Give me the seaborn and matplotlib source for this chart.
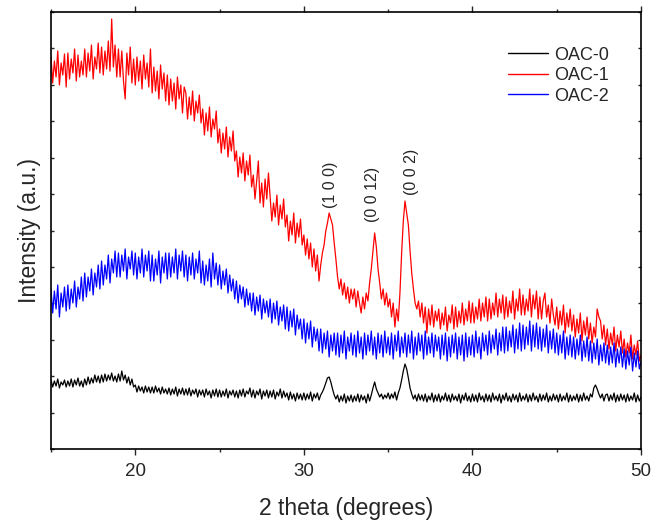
import numpy as np
import pandas as pd
import matplotlib
matplotlib.use("Agg")
import matplotlib.pyplot as plt
import seaborn as sns
from matplotlib.ticker import MultipleLocator

# ---------------- data ----------------
two_theta_start, two_theta_stop, two_theta_step = 15.0, 50.0, 0.1
two_theta = np.round(np.arange(two_theta_start, two_theta_stop + two_theta_step / 2, two_theta_step), 2)

oac0 = [
    69, 62, 68, 63, 70, 61, 67, 64, 69, 62,
    68, 63, 70, 62, 69, 64, 71, 63, 68, 62,
    70, 64, 72, 65, 71, 66, 74, 67, 73, 66,
    74, 67, 75, 68, 74, 69, 76, 68, 73, 67,
    75, 68, 78, 69, 74, 66, 72, 64, 70, 62,
    64, 57, 63, 58, 62, 56, 63, 57, 62, 56,
    62, 56, 63, 57, 61, 55, 62, 56, 60, 55,
    61, 54, 60, 55, 62, 53, 60, 55, 61, 54,
    60, 54, 61, 53, 59, 55, 60, 52, 59, 54,
    59, 52, 60, 54, 58, 51, 59, 53, 60, 52,
    59, 52, 58, 53, 60, 51, 58, 54, 59, 52,
    58, 51, 59, 53, 60, 52, 58, 55, 61, 52,
    59, 51, 58, 54, 60, 50, 58, 53, 59, 51,
    58, 52, 59, 50, 57, 53, 60, 51, 58, 52,
    56, 49, 57, 50, 55, 48, 56, 50, 55, 49,
    56, 49, 55, 50, 57, 48, 55, 51, 56, 49,
    54, 57, 61, 66, 71, 72, 67, 60, 54, 50,
    54, 47, 53, 48, 55, 46, 53, 48, 54, 47,
    53, 48, 55, 47, 54, 49, 53, 46, 55, 48,
    54, 61, 67, 60, 56, 52, 55, 50, 54, 51,
    56, 50, 55, 51, 57, 49, 56, 61, 69, 78,
    85, 80, 71, 61, 55, 50, 54, 48, 55, 49,
    54, 48, 55, 47, 53, 49, 56, 47, 54, 48,
    55, 47, 53, 49, 56, 48, 54, 47, 55, 49,
    53, 48, 55, 46, 54, 49, 56, 48, 53, 47,
    55, 48, 54, 47, 56, 49, 53, 47, 55, 48,
    54, 47, 56, 49, 53, 48, 55, 46, 54, 49,
    56, 48, 53, 47, 55, 49, 54, 47, 56, 48,
    53, 49, 55, 47, 54, 48, 56, 49, 53, 47,
    55, 48, 54, 49, 56, 47, 53, 48, 55, 49,
    54, 47, 55, 48, 53, 49, 56, 47, 54, 48,
    53, 49, 55, 47, 54, 48, 56, 49, 53, 48,
    55, 52, 61, 64, 60, 55, 51, 55, 48, 54,
    55, 48, 54, 49, 56, 47, 54, 48, 55, 49,
    54, 47, 55, 48, 53, 49, 56, 47, 54, 48,
    52,
]

oac1 = [
    392, 366, 388, 372, 398, 364, 386, 374, 395, 362,
    396, 370, 390, 376, 400, 368, 394, 372, 388, 374,
    400, 372, 396, 378, 404, 370, 392, 380, 406, 376,
    402, 374, 398, 380, 408, 378, 430, 382, 404, 372,
    400, 372, 398, 368, 350, 396, 374, 402, 366, 390,
    364, 392, 368, 388, 360, 394, 370, 386, 362, 400,
    356, 382, 358, 378, 350, 384, 360, 376, 348, 374,
    344, 370, 348, 366, 340, 372, 350, 364, 336, 362,
    356, 330, 352, 334, 358, 328, 348, 336, 354, 326,
    340, 314, 336, 318, 342, 312, 330, 320, 338, 306,
    320, 296, 316, 300, 322, 292, 312, 298, 318, 288,
    298, 272, 292, 276, 296, 268, 288, 274, 294, 262,
    274, 250, 268, 288, 246, 266, 242, 270, 250, 276,
    252, 228, 246, 232, 254, 224, 244, 230, 250, 222,
    234, 208, 228, 214, 236, 206, 226, 212, 230, 204,
    214, 194, 210, 190, 206, 182, 200, 178, 194, 168,
    184, 196, 204, 218, 226, 236, 230, 224, 206, 190,
    172, 160, 170, 154, 166, 150, 162, 146, 160, 150,
    160, 142, 158, 146, 136, 152, 140, 156, 148, 166,
    180, 198, 216, 202, 180, 166, 150, 160, 144, 156,
    142, 150, 132, 146, 122, 140, 128, 156, 196, 228,
    248, 236, 224, 198, 176, 160, 146, 140, 148, 132,
    146, 126, 142, 116, 140, 124, 144, 122, 138, 128,
    140, 120, 136, 124, 142, 118, 134, 126, 144, 120,
    142, 122, 138, 126, 146, 124, 140, 128, 148, 126,
    146, 126, 142, 130, 150, 128, 146, 132, 152, 128,
    150, 130, 146, 134, 156, 132, 150, 136, 154, 130,
    152, 132, 148, 136, 158, 130, 150, 138, 160, 134,
    154, 134, 150, 138, 160, 132, 154, 140, 158, 130,
    152, 130, 148, 156, 132, 144, 126, 150, 134, 124,
    142, 120, 138, 124, 144, 116, 136, 122, 140, 118,
    134, 112, 130, 116, 136, 108, 128, 114, 132, 110,
    126, 106, 122, 112, 140, 132, 128, 110, 124, 104,
    120, 100, 116, 104, 122, 98, 114, 102, 118, 96,
    110, 92, 106, 96, 114, 90, 104, 94, 108, 88,
    94,
]

oac2 = [
    160, 136, 158, 140, 164, 132, 156, 142, 162, 138,
    164, 140, 160, 146, 168, 142, 162, 150, 172, 148,
    176, 152, 172, 158, 180, 154, 176, 162, 184, 160,
    188, 164, 184, 170, 194, 166, 190, 176, 198, 172,
    196, 172, 194, 178, 200, 170, 192, 180, 198, 174,
    196, 170, 192, 176, 200, 172, 194, 178, 198, 168,
    194, 168, 190, 174, 198, 166, 192, 176, 196, 170,
    196, 172, 192, 176, 200, 170, 194, 178, 198, 172,
    194, 168, 192, 174, 196, 170, 190, 176, 198, 166,
    188, 164, 184, 168, 190, 162, 196, 170, 186, 164,
    184, 160, 178, 164, 180, 156, 174, 158, 170, 150,
    168, 146, 164, 150, 162, 142, 160, 144, 156, 138,
    156, 134, 152, 138, 154, 130, 150, 136, 148, 132,
    150, 126, 146, 130, 148, 124, 142, 128, 144, 120,
    142, 118, 138, 122, 140, 114, 134, 120, 130, 110,
    130, 106, 126, 110, 128, 102, 122, 108, 120, 98,
    120, 96, 116, 100, 118, 92, 114, 98, 116, 94,
    116, 92, 114, 96, 118, 90, 112, 98, 116, 94,
    114, 92, 118, 96, 112, 90, 116, 94, 114, 98,
    118, 94, 112, 90, 116, 96, 114, 92, 118, 96,
    112, 94, 116, 90, 114, 98, 118, 92, 112, 96,
    116, 92, 114, 96, 118, 90, 112, 94, 116, 98,
    114, 90, 118, 94, 112, 96, 116, 92, 114, 98,
    112, 90, 114, 94, 116, 88, 112, 92, 114, 96,
    116, 90, 112, 94, 114, 88, 116, 92, 112, 94,
    114, 92, 118, 96, 112, 90, 116, 98, 114, 94,
    118, 96, 114, 100, 120, 94, 116, 98, 122, 96,
    122, 98, 118, 102, 124, 96, 120, 100, 126, 98,
    124, 100, 122, 104, 128, 98, 124, 102, 126, 100,
    122, 98, 120, 102, 124, 96, 118, 100, 120, 96,
    116, 94, 114, 96, 118, 90, 112, 94, 114, 92,
    112, 90, 110, 94, 114, 88, 108, 92, 112, 88,
    108, 86, 106, 90, 110, 84, 104, 88, 106, 86,
    104, 84, 102, 86, 106, 82, 100, 86, 102, 82,
    100, 80, 98, 84, 102, 78, 96, 82, 98, 80,
    88,
]

series_names = ["OAC-0", "OAC-1", "OAC-2"]
series_colors = ["#000000", "#ff0000", "#0000ff"]

peak_labels = ["(1 0 0)", "(0 0 12)", "(0 0 2)"]
peak_label_x = [31.6, 34.1, 36.4]
peak_label_y = [241, 227, 254]

# ---------------- build long table ----------------
frames = []
for name, vals in zip(series_names, [oac0, oac1, oac2]):
    frames.append(pd.DataFrame({"two_theta": two_theta, "intensity": vals, "sample": name}))
df = pd.concat(frames, ignore_index=True)

# ---------------- plot ----------------
sns.set_style("ticks")
plt.rcParams["font.family"] = ["Liberation Sans", "DejaVu Sans"]

fig = plt.figure(figsize=(6.52, 5.23), dpi=100)
ax = fig.add_axes([51 / 652, 1 - 449 / 523, 590 / 652, 437 / 523])

sns.lineplot(data=df, x="two_theta", y="intensity", hue="sample",
             hue_order=series_names, palette=series_colors,
             estimator=None, sort=False, linewidth=0.9, ax=ax)

ax.set_xlim(15, 50)
ax.set_ylim(0, 437)
ax.xaxis.set_major_locator(MultipleLocator(10))
ax.xaxis.set_minor_locator(MultipleLocator(5))
ax.yaxis.set_major_locator(MultipleLocator(437 / 12))
ax.set_yticklabels([])

ax.tick_params(axis="x", which="major", direction="out", length=4, width=1,
               labelsize=13.5, pad=6, top=True)
ax.tick_params(axis="x", which="minor", direction="out", length=2.5, width=1, top=True)
ax.tick_params(axis="y", which="major", direction="in", length=2.5, width=1,
               left=True, right=True, labelleft=False)

for sp in ax.spines.values():
    sp.set_visible(True)
    sp.set_linewidth(1.2)
    sp.set_color("black")

ax.set_xlabel("2 theta (degrees)", fontsize=16.5, labelpad=12)
ax.set_ylabel("Intensity (a.u.)", fontsize=16.5, labelpad=7.5)

for lab, px, py in zip(peak_labels, peak_label_x, peak_label_y):
    ax.text(px, py, lab, rotation=90, ha="center", va="bottom", fontsize=11.5)

leg = ax.legend(loc="upper left", bbox_to_anchor=(0.775, 0.921), frameon=False,
                fontsize=13, handlelength=2.2, handletextpad=0.35,
                labelspacing=0.2, borderpad=0, borderaxespad=0)
for line in leg.get_lines():
    line.set_linewidth(1.0)

fig.savefig("out.png", dpi=100)
